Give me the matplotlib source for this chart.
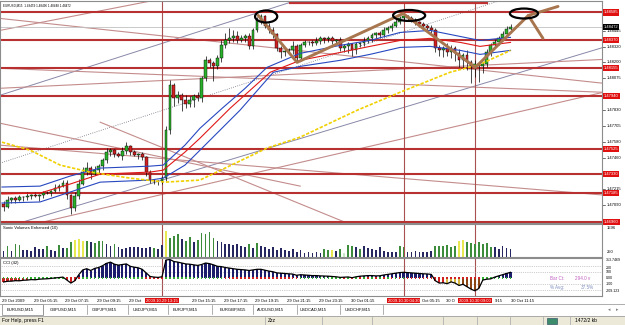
import numpy as np
import matplotlib
matplotlib.use("Agg")
import matplotlib.pyplot as plt
import matplotlib.transforms as mtransforms
from matplotlib.patches import Ellipse, Rectangle

plt.rcParams['font.family'] = ['Liberation Sans', 'DejaVu Sans']

W, H = 625, 325

# ---- EURUSD M15 candles (bar 0 = 29 Oct 03:15) ----
first_open = 1.47100
closes = [
    1.47076, 1.47130, 1.47145, 1.47130, 1.47153, 1.47153, 1.47161, 1.47169, 1.47161, 1.47169,
    1.47184, 1.47184, 1.47200, 1.47223, 1.47238, 1.47262, 1.47169, 1.47068, 1.47161, 1.47254,
    1.47347, 1.47378, 1.47331, 1.47362, 1.47393, 1.47440, 1.47502, 1.47517, 1.47486, 1.47471,
    1.47509, 1.47548, 1.47502, 1.47478, 1.47486, 1.47463, 1.47347, 1.47285, 1.47277, 1.47277,
    1.47300, 1.47672, 1.48020, 1.47920, 1.47943, 1.47904, 1.47873, 1.47904, 1.47935, 1.47920,
    1.48074, 1.48214, 1.48190, 1.48167, 1.48229, 1.48330, 1.48368, 1.48384, 1.48399, 1.48368,
    1.48384, 1.48399, 1.48322, 1.48446, 1.48523, 1.48554, 1.48484, 1.48446, 1.48415, 1.48306,
    1.48275, 1.48283, 1.48291, 1.48322, 1.48229, 1.48330, 1.48353, 1.48353, 1.48345, 1.48361,
    1.48384, 1.48376, 1.48384, 1.48361, 1.48368, 1.48306, 1.48322, 1.48337, 1.48291, 1.48337,
    1.48345, 1.48361, 1.48384, 1.48407, 1.48423, 1.48407, 1.48446, 1.48461, 1.48484, 1.48515,
    1.48539, 1.48554, 1.48539, 1.48523, 1.48508, 1.48492, 1.48477, 1.48461, 1.48446, 1.48306,
    1.48291, 1.48306, 1.48275, 1.48306, 1.48268, 1.48214, 1.48252, 1.48198, 1.48167, 1.48183,
    1.48167, 1.48183, 1.48275, 1.48330, 1.48353, 1.48384, 1.48415, 1.48459, 1.48472,
]
# wick lengths in pips above / below the body
up_wick = [2, 3, 1, 2, 2, 1, 3, 1, 2, 1, 2, 2, 1, 3, 2, 2,
           2, 1, 3, 4, 4, 5, 2, 3, 2, 2,
           3, 2, 1, 2, 3, 3, 1, 2, 1, 2, 1, 2, 1, 1, 2,
           3, 4, 2, 3, 2, 4, 3, 2, 3, 2, 3, 2, 2, 3,
           4, 6, 8, 5, 4, 3, 2, 3, 2, 3, 2, 1,
           2, 3, 1, 2, 3, 2, 4, 2, 2,
           2, 1, 2, 3, 2, 1, 2, 2, 1, 3, 2,
           2, 1, 2, 1, 3, 2, 2, 1, 2, 3, 2, 2, 3, 2, 2,
           1, 2, 2, 1, 2, 2, 3,
           2, 3, 2, 4, 3, 2, 3, 2, 4,
           2, 3, 2, 2, 3, 2, 3, 2, 3, 2, 2]
dn_wick = [3, 1, 2, 2, 1, 3, 2, 2, 1, 4, 2, 1, 2, 1, 2, 1,
           3, 5, 2, 2, 1, 2, 4, 1, 2, 3,
           2, 3, 2, 1, 3, 2, 2, 1, 3, 2, 3, 2, 2, 3, 2,
           2, 3, 6, 4, 8, 3, 2, 5, 2, 3, 2, 3, 11, 2,
           3, 2, 2, 3, 2, 1, 3, 2, 2, 1, 3, 2,
           2, 3, 2, 4, 3, 2, 3, 3, 2,
           1, 2, 2, 1, 2, 3, 2, 2, 3, 2, 3,
           5, 4, 3, 2, 2, 1, 3, 2, 2, 1, 2, 2, 1, 2, 2,
           2, 1, 2, 2, 3, 2, 2,
           3, 4, 5, 3, 4, 6, 5, 7, 6,
           13, 8, 12, 5, 2, 3, 2, 2, 1, 2, 1]

# moving averages (bar, price)
ma_upper = [(-0.4, 1.47231), (9.2, 1.47238), (16.8, 1.47316), (24.4, 1.47378), (37, 1.47393),
            (40.3, 1.47401), (45.8, 1.47556), (49.6, 1.47687), (55.2, 1.47842), (61, 1.47997),
            (66.5, 1.48159), (74.9, 1.48268), (85, 1.48330), (92.5, 1.48368), (100.1, 1.48430),
            (107.7, 1.48446), (115.3, 1.48399), (120.3, 1.48368), (128, 1.48392)]
ma_mid = [(-0.4, 1.47177), (9.2, 1.47184), (16.8, 1.47254), (24.4, 1.47331), (37, 1.47347),
          (40.3, 1.47362), (45.8, 1.47502), (49.6, 1.47610), (57.2, 1.47842), (67.3, 1.48121),
          (74.9, 1.48214), (85, 1.48275), (92.5, 1.48322), (100.1, 1.48368), (107.7, 1.48384),
          (115.3, 1.48353), (120.3, 1.48322), (128, 1.48353)]
ma_lower = [(-0.4, 1.47107), (9.2, 1.47115), (16.8, 1.47192), (24.4, 1.47269), (37, 1.47285),
            (40.3, 1.47300), (45.8, 1.47401), (49.6, 1.47517), (59.7, 1.47827), (68.1, 1.48121),
            (74.9, 1.48167), (85, 1.48214), (92.5, 1.48260), (100.1, 1.48314), (107.7, 1.48322),
            (115.3, 1.48291), (120.3, 1.48260), (128, 1.48291)]
ma_slow = [(-0.4, 1.47579), (6.7, 1.47517), (14.3, 1.47401), (21.8, 1.47347), (32, 1.47300),
           (40.8, 1.47269), (49.6, 1.47285), (66.5, 1.47533), (74.9, 1.47618), (89.3, 1.47827),
           (100.1, 1.47966), (112.7, 1.48121), (120.3, 1.48183), (128, 1.48291)]

# drawn objects
levels = [1.48585, 1.48370, 1.48155, 1.47940, 1.47525, 1.47330, 1.47185, 1.46960]
top_segment = (72.3, 122.1, 1.48655)
trend_grey = [(-0.9, 1.47943, 72.3, 1.48663), (4.9, 1.46960, 151.4, 1.48314)]
trend_dotted = [(-0.9, 1.47416, 125.4, 1.48678)]
trend_pink = [(-0.9, 1.48446, 37.8, 1.48678), (-0.9, 1.48539, 151.4, 1.48036),
              (10.0, 1.46960, 151.4, 1.47966), (-0.9, 1.47726, 74.9, 1.47238),
              (-0.9, 1.47556, 151.4, 1.47169), (24.4, 1.47734, 86.7, 1.46952),
              (-0.9, 1.48152, 151.4, 1.47966), (-0.9, 1.47997, 151.4, 1.48221)]
zigzag = [(64.3, 1.48562), (74.1, 1.48198), (100.9, 1.48577), (119.1, 1.48159),
          (132.5, 1.48562), (140.0, 1.48632)]
zigzag_branch = [(132.5, 1.48562), (136.2, 1.48384)]
circles = [(66.3, 1.48554, 5.6, 0.00093), (102.4, 1.48562, 8.1, 0.00085),
           (131.4, 1.48577, 7.1, 0.00077)]
vline_bars = [40, 101, 119]
vline_labels = ['2009.10.29 13:15', '2009.10.30 04:30', '2009.10.30 09:00']
price_ticks = [1.48445, 1.48320, 1.48200, 1.48075, 1.47830, 1.47705, 1.47580,
               1.47460, 1.47215, 1.47090]
bid = 1.48472

# Sonic volumes
volumes = [350, 620, 330, 700, 650, 380, 400, 350, 560, 450, 420, 600, 380, 330, 640, 480,
           500, 820, 930, 1000, 880,
           900, 820, 760, 900, 850,
           700, 620, 700, 540, 460, 480, 520, 560, 520, 480, 500, 520, 470, 420, 650,
           1400, 1050, 1150, 1250, 1000, 900, 1100, 800, 950, 1300,
           1250, 1350, 1050, 900,
           800, 700, 720, 650, 700, 600, 560, 720, 500, 780, 600, 560,
           450, 520, 400, 480, 380, 350, 460, 300, 380,
           220, 250, 200, 260, 240, 420, 400, 360, 330, 420, 200,
           650, 600, 520, 450, 580, 500, 420, 380, 560, 330, 300, 250, 280, 600, 550,
           300, 250, 320, 260, 300, 280, 350,
           600, 620, 580, 650, 560, 620,
           870, 950, 800,
           780, 720, 800, 700, 760, 560,
           520, 450, 600, 480, 420]
vol_kind = ("ngnggnnnnnngnngn" "ggyyy" "gnggg" "nngnnnnnnnnngnn" "ygggnggngg" "gggn"
            "nnnnnnngngnn" "nnnnnnnnn" "nnnnnggyngl" "ggngnnnnnnnnngg" "nnnnnnn"
            "gggggg" "yyg" "gggggg" "nnnnn")

# CCI (42)
cci = [-62, -50, -48, -40, -42, -33, -30, -22, -25, -15, -12, -8, -2, 6, 12, 20,
       -30, -80, -40, 60, 140, 160, 130, 165, 180, 210,
       250, 270, 235, 220, 230, 240, 200, 185, 175, 150,
       90, 30, 20, 15, 25, 305, 313.7469, 280, 270, 255,
       240, 235, 225, 215, 230, 255, 245, 225, 200, 195,
       180, 170, 160, 150, 145, 140, 130, 140, 150, 150,
       135, 120, 110, 90, 85, 80, 75, 70, 50, 60,
       55, 50, 45, 45, 40, 38, 35, 30, 25, 15,
       18, 22, 10, 25, 35, 40, 45, 45, 40, 42,
       55, 65, 75, 85, 95, 100, 95, 90, 85, 80,
       75, 72, 65, -40, -80, -75, -90, -60, -80, -120,
       -100, -140, -180, -209.123, -170, -30, -15, -10, 20, 40,
       60, 80, 100]
cci_kind = ("rrrrrrrrrrrrr" "nnn" "rrr" + "n" * 90 + "rrr" "yyyy" "bbbbb" "ggg" "nnnnn")
zero_kind = ("g" * 16 + "r" * 4 + "g" * 16 + "r" * 5 + "g" * 15 + "r" * 19 + "g" * 11
             + "rgrgrgrgrgrgrgrgr" + "r" * 18 + "g" * 8)

# time scale: what stays visible of each label next to the red date boxes
time_labels = ['29 Oct 2009', '29 Oct 05:15', '29 Oct 07:15', '29 Oct 09:15', '29 Oct',
               '29 Oct 15:15', '29 Oct 17:15', '29 Oct 19:15', '29 Oct 21:15',
               '29 Oct 23:15', '30 Oct 01:15', 'Oct 05:15', '30 O',
               '9:15', '30 Oct 11:15']
time_label_bars = [0, 8, 16, 24, 32, 48, 56, 64, 72, 80, 88, 106, 112, 124.3, 128.6]
tabs = ['EURUSD,M15', 'GBPUSD,M15', 'GBPJPY,M15', 'USDJPY,M15', 'EURJPY,M15',
        'EURGBP,M15', 'AUDUSD,M15', 'USDCAD,M15', 'USDCHF,M15']


def px_box(x0, y0, x1, y1):
    return [x0 / W, 1 - y1 / H, (x1 - x0) / W, (y1 - y0) / H]


fig = plt.figure(figsize=(W / 100, H / 100), dpi=100)
ax = fig.add_axes(px_box(0, 0.5, 602, 223))
axv = fig.add_axes(px_box(0, 224, 602, 257))
axc = fig.add_axes(px_box(0, 258, 602, 296))
for a in (ax, axv, axc):
    a.set_xlim(-0.9, 151.1)
    a.set_xticks([])
    a.set_yticks([])
    for s in a.spines.values():
        s.set_color('#8c8c8c')
        s.set_linewidth(0.8)
ax.set_ylim(1.46952, 1.48678)
axv.set_ylim(0, 1800)
axc.set_ylim(-296, 339)

bars = np.arange(len(closes))
c = np.array(closes)
o = np.array([first_open] + closes[:-1])
hi = np.maximum(o, c) + np.array(up_wick) * 1e-4
lo = np.minimum(o, c) - np.array(dn_wick) * 1e-4

# objects behind the candles
for b0, p0, b1, p1 in trend_grey:
    ax.plot([b0, b1], [p0, p1], color='#8888a8', lw=0.7, zorder=1)
for b0, p0, b1, p1 in trend_dotted:
    ax.plot([b0, b1], [p0, p1], color='#707080', lw=0.6, ls=':', zorder=1)
for b0, p0, b1, p1 in trend_pink:
    ax.plot([b0, b1], [p0, p1], color='#c48c8c', lw=0.8, zorder=1)
for lv in levels:
    ax.axhline(lv, color='#b83030', lw=1.5, zorder=2)
ax.plot([top_segment[0], top_segment[1]], [top_segment[2]] * 2, color='#c03030', lw=1.6, zorder=2)
ax.axhline(bid, color='#c0c0c0', lw=0.6, zorder=1)
for a in (ax, axv, axc):
    for vb in vline_bars:
        a.axvline(vb, color='#a85050', lw=0.8, zorder=1)

# candles
ax.vlines(bars, lo, hi, color='black', lw=0.5, zorder=3)
body = np.maximum(np.abs(c - o), 0.00002)
ax.bar(bars, body, bottom=np.minimum(o, c), width=0.7,
       color=np.where(c >= o, '#2bb02b', '#d02020'), edgecolor='black', linewidth=0.3, zorder=4)

# moving averages
for pts, col in ((ma_upper, '#2848c0'), (ma_mid, '#e01818'), (ma_lower, '#2848c0')):
    xs, ys = zip(*pts)
    ax.plot(xs, ys, color=col, lw=0.8, zorder=5)
xs, ys = zip(*ma_slow)
ax.plot(xs, ys, color='#f0d000', lw=1.2, ls=(0, (2, 1)), zorder=5)

# hand-drawn analysis
xs, ys = zip(*zigzag)
ax.plot(xs, ys, color='#a8764e', lw=2.1, zorder=6, solid_capstyle='round')
xs, ys = zip(*zigzag_branch)
ax.plot(xs, ys, color='#a8764e', lw=2.1, zorder=6, solid_capstyle='round')
for cb, cp, cw, ch in circles:
    ax.add_patch(Ellipse((cb, cp), cw, ch, fill=False, ec='black', lw=1.6, zorder=7))

# title
ax.text(0.005, 0.977, 'EURUSD,M15  1.48459 1.48496 1.48448 1.48472', transform=ax.transAxes,
        fontsize=2.2, va='center', ha='left')

# right price scale
yt = ax.get_yaxis_transform()
for p in price_ticks:
    ax.plot([1.0, 1.005], [p, p], transform=yt, clip_on=False, color='black', lw=0.4)
    ax.text(1.008, p, f'{p:.5f}', transform=yt, fontsize=3.0, va='center', ha='left')
for lv in levels:
    ax.text(1.003, lv, f'{lv:.5f}', transform=yt, fontsize=3.0, va='center', ha='left', color='white',
            bbox=dict(boxstyle='square,pad=0.25', fc='#e01010', ec='none'), zorder=10, clip_on=False)
ax.text(1.003, bid, f'{bid:.5f}', transform=yt, fontsize=3.0, va='center', ha='left', color='white',
        bbox=dict(boxstyle='square,pad=0.25', fc='black', ec='none'), zorder=10, clip_on=False)

# volumes panel
vcol = {'n': '#262660', 'g': '#3c8c3c', 'y': '#e8e850', 'l': '#c8e8c8'}
axv.bar(bars, volumes, width=0.45, color=[vcol[k] for k in vol_kind], zorder=3)
axv.text(0.005, 0.88, 'Sonic Volumes Enhanced (10)', transform=axv.transAxes, fontsize=3.0, va='center')
vt = axv.get_yaxis_transform()
for v in (1596, 250):
    axv.text(1.008, v, str(v), transform=vt, fontsize=3.0, va='center', ha='left')

# CCI panel
ccol = {'n': '#1c1c6c', 'r': '#d02020', 'y': '#d4b840', 'b': '#8b4513', 'g': '#30b030'}
axc.bar(bars, cci, width=0.55, color=[ccol[k] for k in cci_kind], zorder=2)
for lvl in (200, 100, -100, -200):
    axc.axhline(lvl, color='#a0a0a0', lw=0.5, ls=':', zorder=1)
axc.scatter(bars, np.zeros(len(bars)), marker='s', s=1.3, lw=0,
            c=[ccol[k] for k in zero_kind], zorder=3)
axc.plot(bars, cci, color='black', lw=0.9, zorder=4)
axc.text(0.005, 0.86, 'CCI (42)', transform=axc.transAxes, fontsize=3.0, va='center')
ct = axc.get_yaxis_transform()
for v, s in ((313.7469, '313.7469'), (175, '200'), (100, '100'), (0, '0.00'), (-100, '-100'),
             (-209.123, '-209.123')):
    axc.text(1.006, v, s, transform=ct, fontsize=2.6, va='center', ha='left')
axc.text(0.913, 0.45, 'Bar Ct:', transform=axc.transAxes, fontsize=3.3, color='#c060c0', va='center')
axc.text(0.955, 0.45, '294.0 v', transform=axc.transAxes, fontsize=3.3, color='#c060c0', va='center')
axc.text(0.913, 0.22, '% Avg:', transform=axc.transAxes, fontsize=3.3, color='#8090c0', va='center')
axc.text(0.965, 0.22, '37.5%', transform=axc.transAxes, fontsize=3.3, color='#8090c0', va='center')

# time scale
tt = mtransforms.blended_transform_factory(axc.transData, fig.transFigure)
for b, s in zip(time_label_bars, time_labels):
    fig.text(b - 0.4, 1 - 300.5 / H, s, transform=tt, fontsize=3.0, va='center', ha='left')
for b, s in zip(vline_bars, vline_labels):
    fig.text(b, 1 - 300.5 / H, s, transform=tt, fontsize=3.0, va='center', ha='center', color='white',
             bbox=dict(boxstyle='square,pad=0.2', fc='#e01010', ec='none'), zorder=10)

# tab bar and status bar
fig.patches.append(Rectangle((0, 0), 1, 9 / H, transform=fig.transFigure, fc='#ece9d8', ec='none'))
fig.add_artist(plt.Line2D([0, 1], [1 - 304 / H] * 2, color='#a0a0a0', lw=0.6))
fig.add_artist(plt.Line2D([0, 1], [1 - 315.5 / H] * 2, color='#a0a0a0', lw=0.6))
tab_x = [7, 50, 92, 133, 173, 220, 257, 300, 345]
tab_sep = [43, 87, 128, 168, 212, 253, 297, 340, 383]
fig.patches.append(Rectangle((2 / W, 1 - 315 / H), 41 / W, 11 / H, transform=fig.transFigure,
                             fc='white', ec='#808080', lw=0.5))
for x, s in zip(tab_x, tabs):
    fig.text(x / W, 1 - 309.5 / H, s, fontsize=3.0, va='center', ha='left')
for x in tab_sep:
    fig.add_artist(plt.Line2D([x / W] * 2, [1 - 314 / H, 1 - 305 / H], color='#909090', lw=0.5))
fig.text(608 / W, 1 - 309.5 / H, '\u25c2', fontsize=3.5, color='#808080', va='center')
fig.text(616 / W, 1 - 309.5 / H, '\u25b8', fontsize=3.5, color='#808080', va='center')
fig.text(2 / W, 1 - 320.5 / H, 'For Help, press F1', fontsize=3.6, va='center', ha='left')
fig.text(268 / W, 1 - 320.5 / H, 'Zzz', fontsize=3.6, va='center', ha='left')
fig.text(575 / W, 1 - 320.5 / H, '1472/2 kb', fontsize=3.6, va='center', ha='left')
for x in (265, 322, 372, 443, 477, 510, 543, 570):
    fig.add_artist(plt.Line2D([x / W] * 2, [0.2 / H, 8.5 / H], color='#b0b0b0', lw=0.6))
fig.patches.append(Rectangle((547 / W, 1.5 / H), 10 / W, 6 / H, transform=fig.transFigure,
                             fc='#3c8c6c', ec='#204060', lw=0.4))

fig.savefig('out.png', dpi=100)
